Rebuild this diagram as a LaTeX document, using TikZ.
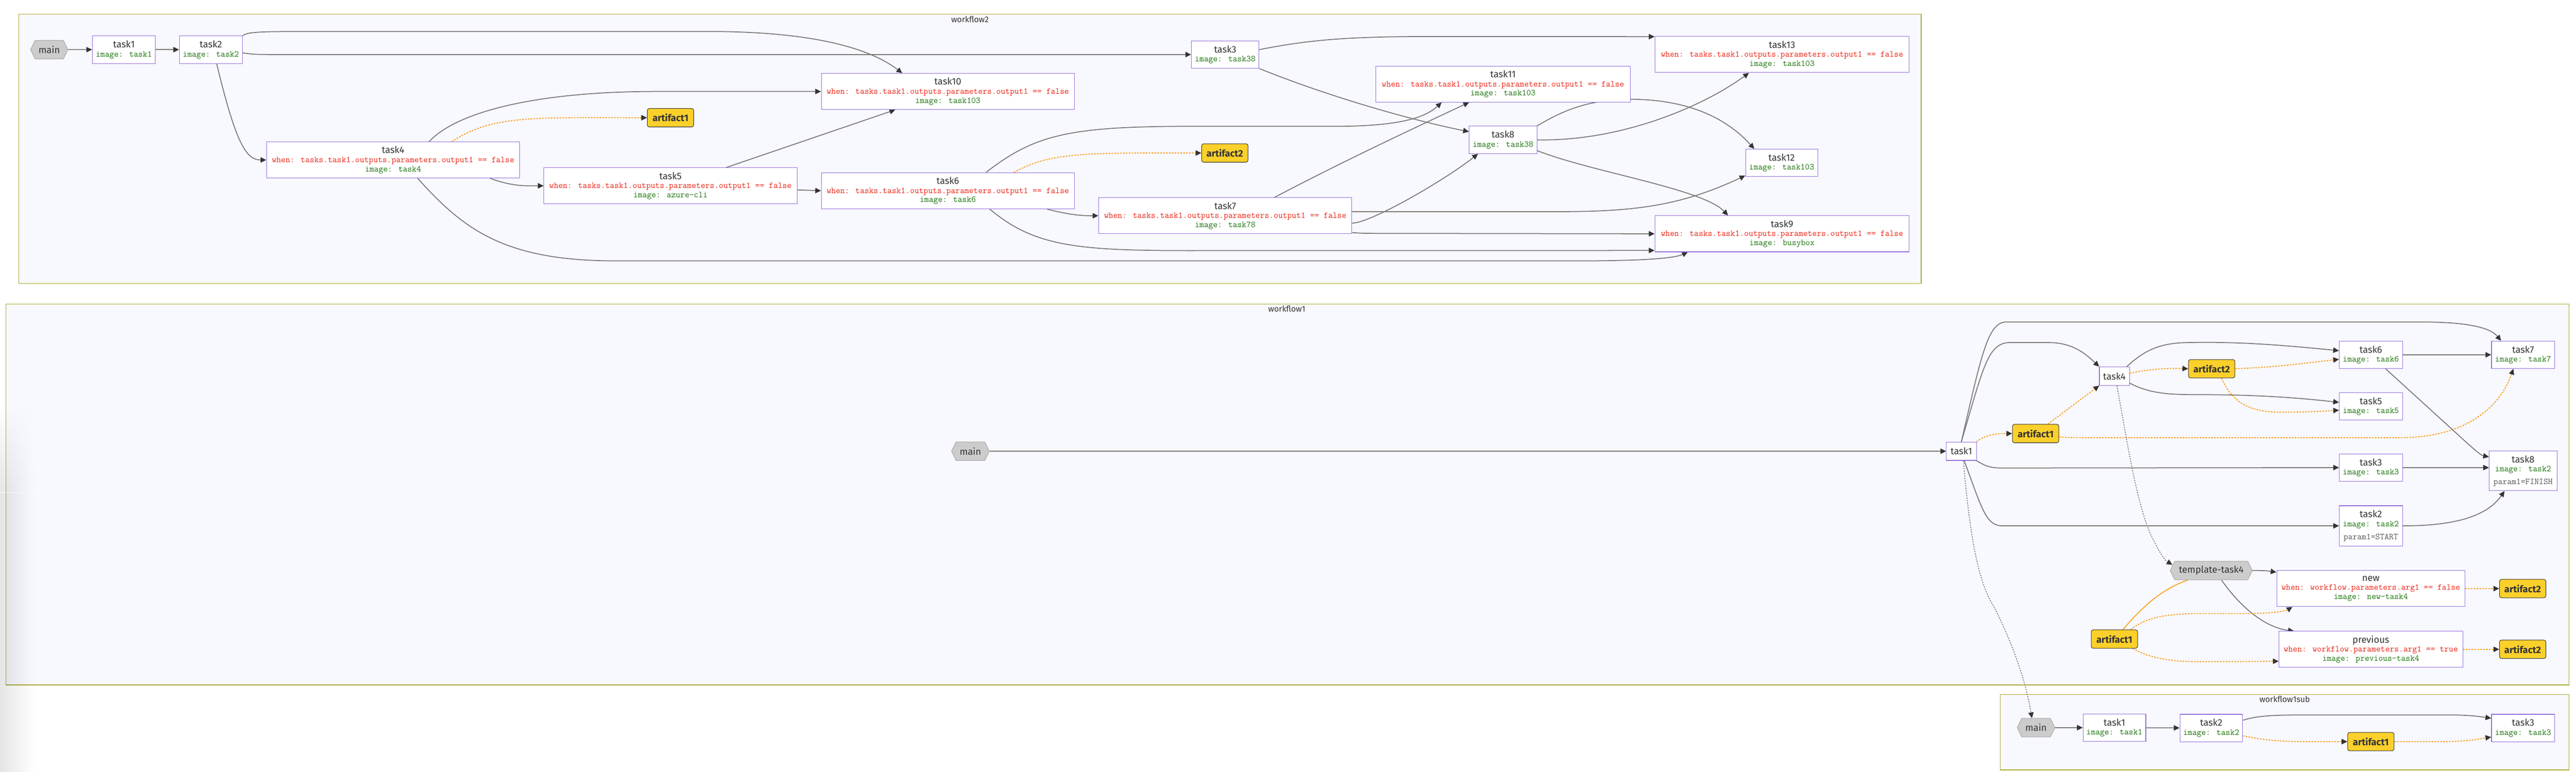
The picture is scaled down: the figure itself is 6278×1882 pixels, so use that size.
\documentclass[tikz,border=0pt]{standalone}
\usepackage{fontspec}
\setmainfont{Fira Sans}
\usetikzlibrary{arrows.meta,shapes.symbols,calc,fadings}
\definecolor{clfill}{RGB}{248,248,255}
\definecolor{cldraw}{RGB}{170,170,51}
\definecolor{nbord}{RGB}{147,112,219}
\definecolor{edgec}{RGB}{120,120,120}
\definecolor{tipc}{RGB}{51,51,51}
\definecolor{orng}{RGB}{250,160,30}
\definecolor{whenc}{RGB}{235,35,20}
\definecolor{imgc}{RGB}{25,115,10}
\definecolor{parc}{RGB}{85,85,85}
\definecolor{artf}{RGB}{252,208,42}
\definecolor{hexf}{RGB}{204,204,204}
\definecolor{hexd}{RGB}{165,165,165}
\definecolor{txtc}{RGB}{51,51,51}
\newcommand\nttl[1]{{\fontsize{23}{22}\selectfont #1}}
\newcommand\nwhen[1]{{\color{whenc}\ttfamily\fontsize{21.5}{22}\selectfont #1}}
\newcommand\nimage[1]{{\color{imgc}\ttfamily\fontsize{21.5}{22}\selectfont #1}}
\newcommand\nparam[1]{{\color{parc}\ttfamily\fontsize{21.5}{22}\selectfont #1}}
\pgfdeclarelayer{bg}
\pgfdeclarelayer{shade}
\pgfdeclarelayer{edges}
\pgfsetlayers{bg,shade,edges,main}
\tikzset{
  tk/.style={rectangle, draw=nbord, fill=white, line width=1.3pt, inner sep=0pt, align=center, text=txtc, font=\fontsize{20}{22}\selectfont},
  s2/.style={minimum height=67pt},
  s3/.style={minimum height=88pt},
  art/.style={rectangle, rounded corners=5pt, draw=tipc, fill=artf, line width=1.3pt, inner sep=0pt, text=txtc, font=\fontsize{23}{23}\selectfont\bfseries, minimum width=113pt, minimum height=45pt},
  hexa/.style={signal, signal to=west and east, signal pointer angle=128, draw=hexd, fill=hexf, line width=1.3pt, inner sep=0pt, text=txtc, font=\fontsize{23}{23}\selectfont, minimum height=45pt},
  cluster/.style={draw=cldraw, fill=clfill, line width=1.5pt},
  clabel/.style={text=txtc, font=\fontsize{20}{20}\selectfont, inner sep=0pt},
  ed/.style={draw=edgec, line width=2.2pt, -{Triangle[length=14pt,width=13pt,color=tipc]}},
  edn/.style={draw=edgec, line width=2.2pt},
  od/.style={draw=orng, line width=2.4pt, dash pattern=on 4pt off 3pt, -{Triangle[length=14pt,width=13pt,color=tipc]}},
  os/.style={draw=orng, line width=2.2pt},
  gd/.style={draw=edgec, line width=2pt, dash pattern=on 3pt off 3pt, -{Triangle[length=14pt,width=13pt,color=tipc]}},
}
\begin{document}
\begin{tikzpicture}[x=1pt,y=-1pt]
\useasboundingbox (0,0) rectangle (6278,1882);
\begin{pgfonlayer}{bg}
\path[fill=white] (0,0) rectangle (6278,1882);
\path[cluster] (46,35) rectangle (4682,691);
\path[cluster] (14,741) rectangle (6261,1670);
\path[cluster] (4875,1693) rectangle (6261,1877);
\end{pgfonlayer}
\begin{pgfonlayer}{shade}
\fill[black, opacity=0.1, path fading=east] (0,1200) rectangle (85,1882);
\foreach \i in {1,...,10} {
  \fill[black, opacity=0.01*\i, path fading=east] (0,1000+20*\i-20) rectangle (85,1000+20*\i);
}
\end{pgfonlayer}
\node[clabel] (lab2) at (2364,47) {workflow2};
\node[clabel] (lab1) at (3136,753) {workflow1};
\node[clabel] (lab1s) at (5568,1705) {workflow1sub};
% ---------------- workflow2 nodes
\node[hexa, minimum width=91pt] (w2main) at (120,121) {main};
\node[tk, s2, minimum width=154pt] (w2t1) at (302,121) {\nttl{task1}\\\nimage{image: task1}};
\node[tk, s2, minimum width=154pt] (w2t2) at (514,121) {\nttl{task2}\\\nimage{image: task2}};
\node[tk, s2, minimum width=165pt] (w2t3) at (2986,133) {\nttl{task3}\\\nimage{image: task38}};
\node[tk, s3, minimum width=617pt] (w2t4) at (958,390) {\nttl{task4}\\\nwhen{when: tasks.task1.outputs.parameters.output1 == false}\\\nimage{image: task4}};
\node[tk, s3, minimum width=617pt] (w2t5) at (1634,453) {\nttl{task5}\\\nwhen{when: tasks.task1.outputs.parameters.output1 == false}\\\nimage{image: azure-cli}};
\node[tk, s3, minimum width=617pt] (w2t6) at (2310,465) {\nttl{task6}\\\nwhen{when: tasks.task1.outputs.parameters.output1 == false}\\\nimage{image: task6}};
\node[tk, s3, minimum width=617pt] (w2t7) at (2986,526) {\nttl{task7}\\\nwhen{when: tasks.task1.outputs.parameters.output1 == false}\\\nimage{image: task78}};
\node[tk, s2, minimum width=165pt] (w2t8) at (3663,341) {\nttl{task8}\\\nimage{image: task38}};
\node[tk, s3, minimum width=620pt] (w2t9) at (4343,570) {\nttl{task9}\\\nwhen{when: tasks.task1.outputs.parameters.output1 == false}\\\nimage{image: busybox}};
\node[tk, s3, minimum width=617pt] (w2t10) at (2310,223) {\nttl{task10}\\\nwhen{when: tasks.task1.outputs.parameters.output1 == false}\\\nimage{image: task103}};
\node[tk, s3, minimum width=620pt] (w2t11) at (3663,205) {\nttl{task11}\\\nwhen{when: tasks.task1.outputs.parameters.output1 == false}\\\nimage{image: task103}};
\node[tk, s2, minimum width=176pt] (w2t12) at (4342,397) {\nttl{task12}\\\nimage{image: task103}};
\node[tk, s3, minimum width=620pt] (w2t13) at (4343,133) {\nttl{task13}\\\nwhen{when: tasks.task1.outputs.parameters.output1 == false}\\\nimage{image: task103}};
\node[art] (w2a1) at (1634,287) {artifact1};
\node[art] (w2a2) at (2985,373) {artifact2};
% ---------------- workflow1 nodes
\node[hexa, minimum width=92pt] (w1main) at (2365,1100) {main};
\node[tk, minimum width=73pt, minimum height=45pt] (w1t1) at (4780,1100) {\nttl{task1}};
\node[art] (w1a1) at (4961,1057) {artifact1};
\node[tk, minimum width=73pt, minimum height=45pt] (w1t4) at (5153,917) {\nttl{task4}};
\node[art] (w1a2) at (5390,899) {artifact2};
\node[tk, s2, minimum width=154pt] (w1t6) at (5778,865) {\nttl{task6}\\\nimage{image: task6}};
\node[tk, s2, minimum width=154pt] (w1t5) at (5778,991) {\nttl{task5}\\\nimage{image: task5}};
\node[tk, s2, minimum width=154pt] (w1t7) at (6149,865) {\nttl{task7}\\\nimage{image: task7}};
\node[tk, s2, minimum width=154pt] (w1t3) at (5778,1140) {\nttl{task3}\\\nimage{image: task3}};
\node[tk, minimum width=165pt, minimum height=97pt] (w1t8) at (6149,1148) {\nttl{task8}\\\nimage{image: task2}\\[9pt]\nparam{param1=FINISH}};
\node[tk, minimum width=154pt, minimum height=98pt] (w1t2) at (5778,1282) {\nttl{task2}\\\nimage{image: task2}\\[9pt]\nparam{param1=START}};
\node[hexa, minimum width=200pt] (w1tt4) at (5389,1391) {template-task4};
\node[tk, s3, minimum width=459pt] (w1new) at (5778,1435) {\nttl{new}\\\nwhen{when: workflow.parameters.arg1 == false}\\\nimage{image: new-task4}};
\node[tk, s3, minimum width=448pt] (w1prev) at (5778,1583) {\nttl{previous}\\\nwhen{when: workflow.parameters.arg1 == true}\\\nimage{image: previous-task4}};
\node[art] (w1a1b) at (5153,1558) {artifact1};
\node[art] (w1a2b) at (6148,1435) {artifact2};
\node[art] (w1a2c) at (6148,1583) {artifact2};
% ---------------- workflow1sub nodes
\node[hexa, minimum width=92pt] (smain) at (4962,1774) {main};
\node[tk, s2, minimum width=153pt] (st1) at (5153,1774) {\nttl{task1}\\\nimage{image: task1}};
\node[tk, s2, minimum width=153pt] (st2) at (5389,1775) {\nttl{task2}\\\nimage{image: task2}};
\node[art] (sa1) at (5778,1808) {artifact1};
\node[tk, s2, minimum width=154pt] (st3) at (6149,1775) {\nttl{task3}\\\nimage{image: task3}};
\begin{pgfonlayer}{edges}
% ---------------- workflow2 edges
\draw[ed] (w2main) -- (w2t1);
\draw[ed] (w2t1) -- (w2t2);
\draw[ed] (w2t2.north east) .. controls (600,80) and (620,77) .. (700,77) -- (1760,77) .. controls (1960,80) and (2110,110) .. ($(w2t10.north west)+(198,0)$);
\draw[ed] ($(w2t2.east)+(0,8)$) .. controls (620,133) .. (700,133) -- (w2t3.west);
\draw[ed] ($(w2t2.south)+(14,0)$) .. controls (575,350) and (600,390) .. (w2t4.west);
\draw[ed] ($(w2t4.north west)+(397,0)$) .. controls (1110,275) and (1300,223) .. (1600,223) -- (w2t10.west);
\draw[od] ($(w2t4.north west)+(452,0)$) .. controls (1200,280) and (1300,287) .. (w2a1.west);
\draw[ed] ($(w2t4.south east)+(-73,0)$) .. controls (1250,455) and (1280,453) .. (w2t5.west);
\draw[ed] ($(w2t4.south west)+(369,0)$) .. controls (1130,560) and (1230,636) .. (1500,636) -- (3850,636) .. controls (4000,636) and (4080,630) .. ($(w2t9.south west)+(81,0)$);
\draw[ed] ($(w2t5.north west)+(445,0)$) -- ($(w2t10.south west)+(181,0)$);
\draw[ed] ($(w2t5.east)+(0,10)$) -- (w2t6.west);
\draw[ed] ($(w2t6.north west)+(402,0)$) .. controls (2520,330) and (2600,308) .. (2900,308) -- (3250,308) .. controls (3400,308) and (3470,290) .. ($(w2t11.south west)+(161,0)$);
\draw[od] ($(w2t6.north west)+(470,0)$) .. controls (2560,370) and (2650,373) .. (w2a2.west);
\draw[ed] ($(w2t6.south east)+(-68,0)$) .. controls (2610,525) and (2640,526) .. (w2t7.west);
\draw[ed] ($(w2t6.south west)+(411,0)$) .. controls (2520,600) and (2620,611) .. (2900,611) -- ($(w2t9.south west)+(0,-4)$);
\draw[ed] ($(w2t3.east)+(0,-12)$) .. controls (3200,95) and (3300,89) .. (3500,89) -- ($(w2t13.north west)+(0,1)$);
\draw[ed] (w2t3.south east) .. controls (3250,240) and (3450,295) .. ($(w2t8.west)+(0,-20)$);
\draw[ed] ($(w2t7.north west)+(429,0)$) .. controls (3260,400) and (3440,315) .. ($(w2t11.south west)+(228,0)$);
\draw[ed] ($(w2t7.east)+(0,-10)$) -- (3800,516) .. controls (3990,516) and (4100,500) .. ($(w2t12.south west)+(0,-3)$);
\draw[ed] ($(w2t7.east)+(0,18)$) .. controls (3340,544) and (3520,440) .. ($(w2t8.south west)+(22,0)$);
\draw[ed] ($(w2t7.east)+(0,41)$) .. controls (3320,569) .. (3400,569) -- (w2t9.west);
\draw[ed] (w2t8.north east) .. controls (3800,275) and (3860,245) .. (3960,242) .. controls (4100,240) and (4200,280) .. ($(w2t12.north west)+(22,0)$);
\draw[ed] (w2t8.east) .. controls (3950,345) and (4150,260) .. ($(w2t13.south west)+(230,0)$);
\draw[ed] ($(w2t8.south east)+(0,-8)$) .. controls (3880,420) and (4150,460) .. ($(w2t9.north west)+(179,0)$);
% ---------------- workflow1 edges
\draw[ed] (w1main) -- (w1t1);
\draw[ed] (w1t1.north) .. controls (4830,860) and (4845,785) .. (4890,785) -- (5900,785) .. controls (6020,785) and (6070,800) .. ($(w1t7.north west)+(24,0)$);
\draw[ed] (w1t1.north) .. controls (4835,890) and (4845,835) .. (4900,835) -- (4990,835) .. controls (5050,835) and (5080,860) .. (w1t4.north west);
\draw[od] (w1t1.north east) .. controls (4840,1060) and (4860,1057) .. (w1a1.west);
\draw[ed] (w1t1.south east) .. controls (4840,1138) and (4855,1141) .. (4880,1141) -- (w1t3.west);
\draw[ed] ($(w1t1.south)+(7,0)$) .. controls (4830,1240) and (4840,1282) .. (4880,1282) -- (w1t2.west);
\draw[gd] ($(w1t1.south)+(5,0)$) .. controls (4800,1300) and (4820,1420) .. (4860,1480) .. controls (4900,1560) and (4935,1650) .. ($(smain.north)+(-10,0)$);
\draw[od] ($(w1a1.north)+(30,0)$) -- (w1t4.south west);
\draw[od] ($(w1a1.east)+(0,8)$) .. controls (5040,1067) .. (5100,1067) -- (5850,1067) .. controls (6000,1067) and (6090,1000) .. ($(w1t7.south west)+(54,0)$);
\draw[ed] ($(w1t4.north east)+(-7,0)$) .. controls (5230,850) and (5270,835) .. (5340,835) .. controls (5450,833) and (5550,840) .. ($(w1t6.west)+(0,-10)$);
\draw[od] ($(w1t4.east)+(0,-7)$) .. controls (5240,900) and (5280,897) .. (w1a2.west);
\draw[ed] ($(w1t4.east)+(0,17)$) .. controls (5230,955) and (5270,962) .. (5340,962) .. controls (5450,962) and (5560,965) .. ($(w1t5.west)+(0,-10)$);
\draw[gd] ($(w1t4.south)+(6,0)$) .. controls (5185,1080) and (5210,1250) .. (5250,1320) .. controls (5265,1350) and (5275,1365) .. ($(w1tt4.west)+(6,-14)$);
\draw[od] (w1a2.east) .. controls (5550,895) and (5620,885) .. ($(w1t6.west)+(0,11)$);
\draw[od] ($(w1a2.south)+(24,0)$) .. controls (5440,980) and (5480,1005) .. (5560,1005) .. controls (5620,1005) and (5670,1002) .. ($(w1t5.west)+(0,9)$);
\draw[ed] (w1t6) -- (w1t7);
\draw[ed] ($(w1t6.south)+(36,0)$) -- (5985,1055) .. controls (6020,1087) and (6045,1110) .. ($(w1t8.north west)+(0,15)$);
\draw[ed] (w1t3.east) -- ($(w1t8.west)+(0,-8)$);
\draw[ed] (w1t2.east) .. controls (5980,1282) and (6060,1260) .. ($(w1t8.south west)+(38,0)$);
\draw[ed] (w1tt4.east) .. controls (5520,1391) .. ($(w1new.west)+(0,-40)$);
\draw[ed] ($(w1tt4.south)+(25,0)$) .. controls (5460,1480) and (5520,1530) .. ($(w1prev.north west)+(37,0)$);
\draw[os] ($(w1a1b.north)+(21,0)$) .. controls (5220,1480) and (5270,1435) .. ($(w1tt4.south)+(-57,0)$);
\draw[od] ($(w1a1b.north)+(40,0)$) .. controls (5230,1505) and (5280,1497) .. (5350,1496) -- (5480,1496) .. controls (5540,1495) and (5570,1490) .. ($(w1new.south west)+(39,0)$);
\draw[od] ($(w1a1b.south)+(45,0)$) .. controls (5230,1600) and (5280,1613) .. (5350,1613) -- (5450,1613) -- ($(w1prev.west)+(0,29)$);
\draw[od] (w1new) -- (w1a2b);
\draw[od] (w1prev) -- (w1a2c);
% ---------------- workflow1sub edges
\draw[ed] (smain) -- (st1);
\draw[ed] (st1) -- (st2);
\draw[ed] ($(st2.east)+(0,-19)$) .. controls (5500,1745) and (5540,1743) .. (5620,1743) -- (5980,1743) .. controls (6030,1744) and (6050,1748) .. ($(st3.west)+(0,-24)$);
\draw[od] ($(st2.east)+(0,19)$) .. controls (5520,1805) and (5560,1808) .. (5620,1808) -- (sa1.west);
\draw[od] (sa1.east) -- (5950,1808) .. controls (6020,1808) and (6050,1800) .. ($(st3.west)+(0,22)$);
\end{pgfonlayer}
\end{tikzpicture}
\end{document}
